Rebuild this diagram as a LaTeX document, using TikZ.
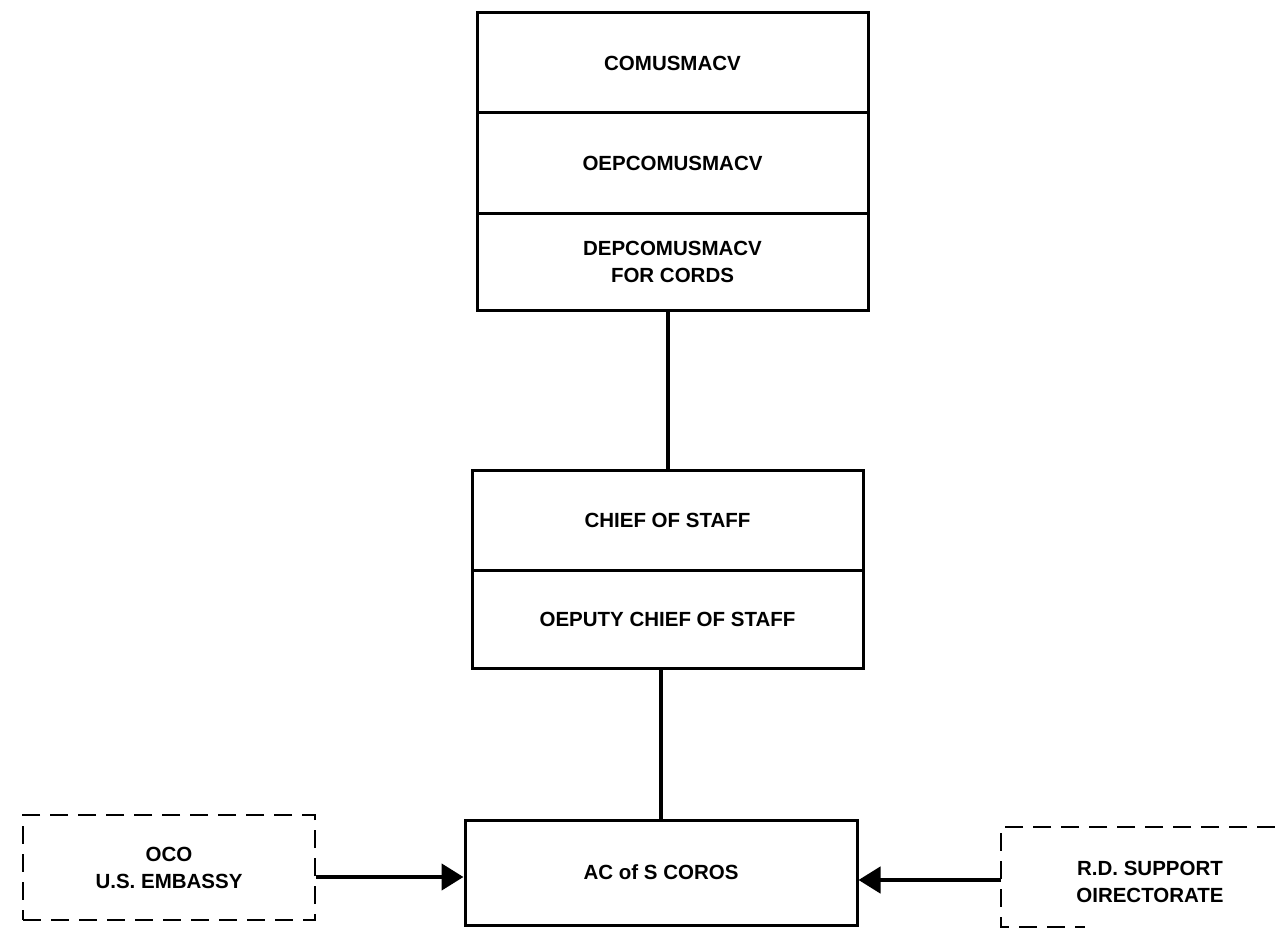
\documentclass[tikz,border=0pt]{standalone}
\usepackage{fontspec}
\setmainfont{Liberation Sans}
\usetikzlibrary{arrows.meta}
\begin{document}
\begin{tikzpicture}[x=1pt,y=-1pt,
  unit/.style={draw, line width=3pt, inner sep=0pt, align=center,
    font=\fontsize{20.5}{27}\selectfont\bfseries},
  dashbox/.style={draw, line width=2.4pt, dash pattern=on 18pt off 10pt,
    inner sep=0pt, align=center, font=\fontsize{20.5}{27}\selectfont\bfseries},
  link/.style={line width=4pt},
  feed/.style={line width=4.5pt, -{Triangle[length=22pt,width=26pt]}}]
\useasboundingbox (0,0) rectangle (1275,931);
% command block
\node[unit, minimum width=391pt, minimum height=100pt] (cmd) at (672.5,63) {COMUSMACV};
\node[unit, minimum width=391pt, minimum height=100pt] (dep) at (672.5,163) {OEPCOMUSMACV};
\node[unit, minimum width=391pt, minimum height=97pt] (cords) at (672.5,261.5) {DEPCOMUSMACV\\FOR CORDS};
% staff block
\node[unit, minimum width=391pt, minimum height=100pt] (cos) at (667.5,520) {CHIEF OF STAFF};
\node[unit, minimum width=391pt, minimum height=98pt] (dcos) at (667.5,619) {OEPUTY CHIEF OF STAFF};
% assistant chief of staff
\node[unit, minimum width=392pt, minimum height=105pt] (acs) at (661,872.5) {AC of S COROS};
% outside agencies
\node[dashbox, minimum width=292pt, minimum height=105pt] (oco) at (169,867.5) {OCO\\U.S. EMBASSY};
\node[align=center, inner sep=0pt, font=\fontsize{20.5}{27}\selectfont\bfseries] (rd) at (1150,882) {R.D. SUPPORT\\OIRECTORATE};
\draw[line width=2.4pt, dash pattern=on 18pt off 10pt] (1275,827) -- (1001,827) -- (1001,927) -- (1085,927);
\coordinate (rdw) at (1001,880);
% connectors
\draw[link] (cos.north |- cords.south) -- (cos.north);
\draw[link] (acs.north |- dcos.south) -- (acs.north);
\draw[feed] (oco.east |- 0,877) -- ([yshift=-4.5pt]acs.west);
\draw[feed] (rdw) -- (acs.east |- rdw);
\end{tikzpicture}
\end{document}
